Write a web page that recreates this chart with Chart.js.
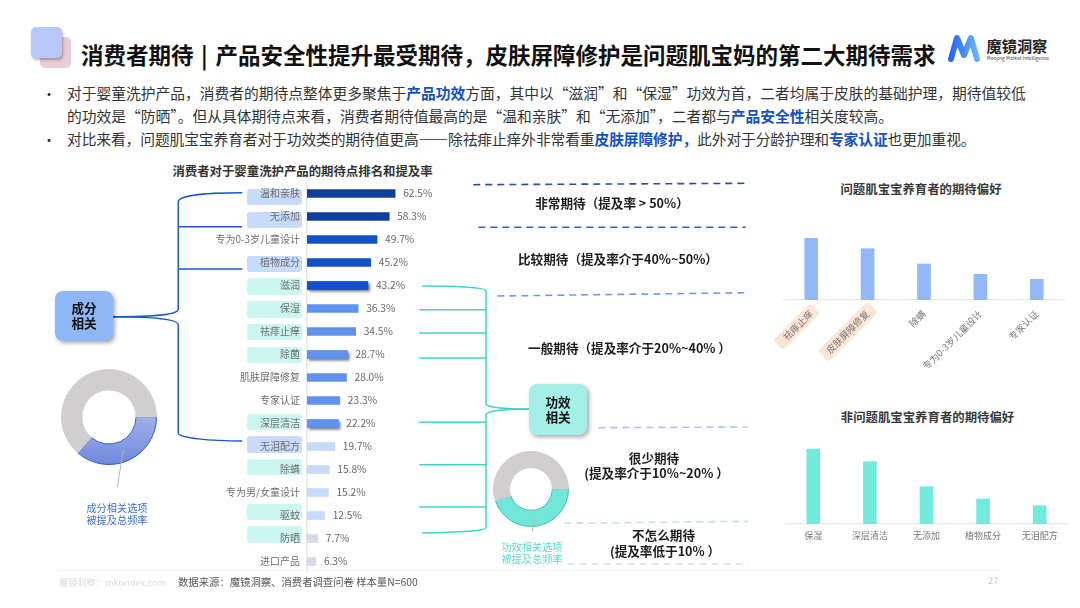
<!DOCTYPE html>
<html lang="zh-CN">
<head>
<meta charset="utf-8">
<script src="https://cdn.jsdelivr.net/npm/chart.js@4/dist/chart.umd.min.js"></script>
<style>
*{box-sizing:border-box}
html,body{margin:0;padding:0;background:#fff;width:1080px;height:608px;overflow:hidden;font-family:"Noto Sans CJK SC","Noto Sans",sans-serif}
.a{position:absolute;white-space:nowrap}
.c{position:absolute;white-space:nowrap;transform:translate(-50%,-50%)}
canvas{position:absolute;display:block}
.body{font-size:14.75px;color:#333;left:67px}
.body b{color:#1450c8;font-weight:700}
.tier{font-size:12.6px;font-weight:700;color:#1c1c1c}
.t2{font-size:12.4px;font-weight:700;color:#3a3a3a}
.pill{position:absolute;left:247px;width:55px;height:16.5px;border-radius:3px}
.pb{background:#c9dbfa}.pt{background:#ccf7f1}
.box{position:absolute;width:57.5px;height:50.5px;border-radius:8px;box-shadow:2px 2px 4px rgba(0,0,0,.35);font-size:12.6px;font-weight:700;color:#111;text-align:center;line-height:15px;padding-top:9.5px}
</style>
</head>
<body>
<div class="a" style="left:40px;top:37px;width:31px;height:31px;border-radius:5px;background:#e9ccd5"></div>
<div class="a" style="left:31px;top:27px;width:31px;height:31px;border-radius:5px;background:#b8c8f8;box-shadow:1px 2px 3px rgba(0,0,0,.3)"></div>
<div class="a" id="title" style="left:81px;top:38px;font-size:22.5px;word-spacing:2.5px;font-weight:700;color:#111;line-height:32px">消费者期待 | 产品安全性提升最受期待，皮肤屏障修护是问题肌宝妈的第二大期待需求</div>

<svg class="a" style="left:0;top:0" width="1080" height="608">
<defs><linearGradient id="lg" x1="0" y1="0" x2="1" y2="0"><stop offset="0" stop-color="#2a66ee"/><stop offset="1" stop-color="#66b4f8"/></linearGradient></defs>
<polyline points="951,59 957,38 964,55 971,38 977,59" fill="none" stroke="url(#lg)" stroke-width="6" stroke-linecap="round" stroke-linejoin="round"/>
<rect x="-26.3" y="-7" width="52.6" height="14" rx="3" fill="#fde5d6" transform="translate(796.7 326.7) rotate(-45)"/>
<rect x="-35" y="-7.5" width="70" height="15" rx="3" fill="#fde5d6" transform="translate(847.7 331.7) rotate(-45)"/>
</svg>
<div class="a" style="left:986.5px;top:34.5px;font-size:15.2px;font-weight:700;color:#222;line-height:20px">魔镜洞察</div>
<div class="a" style="left:986.5px;top:54px;font-size:4.9px;color:#444;line-height:8px">Moojing Market Intelligence</div>

<div class="a" style="left:42px;top:84px;font-size:14px;color:#222;line-height:18px">•</div>
<div class="a body" id="l1" style="top:82px;line-height:22px">对于婴童洗护产品，消费者的期待点整体更多聚焦于<b>产品功效</b>方面，其中以“滋润”和“保湿”功效为首，二者均属于皮肤的基础护理，期待值较低</div>
<div class="a body" id="l2" style="top:105px;line-height:22px">的功效是“防晒”。但从具体期待点来看，消费者期待值最高的是“温和亲肤”和“无添加”，二者都与<b>产品安全性</b>相关度较高。</div>
<div class="a" style="left:42px;top:130px;font-size:14px;color:#222;line-height:18px">•</div>
<div class="a body" id="l3" style="top:128px;line-height:22px;letter-spacing:-.1px">对比来看，问题肌宝宝养育者对于功效类的期待值更高——除祛痱止痒外非常看重<b>皮肤屏障修护，</b>此外对于分龄护理和<b>专家认证</b>也更加重视。</div>

<div class="c t2" style="left:302.5px;top:171px;color:#333">消费者对于婴童洗护产品的期待点排名和提及率</div>
<div class="c t2" style="left:921px;top:189px">问题肌宝宝养育者的期待偏好</div>
<div class="c t2" style="left:927.5px;top:416.5px">非问题肌宝宝养育者的期待偏好</div>

<div class="pill pb" style="top:188.5px"></div>
<div class="pill pb" style="top:211.7px"></div>
<div class="pill pb" style="top:255.7px"></div>
<div class="pill pt" style="top:278.3px"></div>
<div class="pill pt" style="top:301px"></div>
<div class="pill pt" style="top:323.7px"></div>
<div class="pill pt" style="top:346.5px"></div>
<div class="pill pt" style="top:413.5px"></div>
<div class="pill pb" style="top:436px"></div>
<div class="pill pt" style="top:458.5px"></div>
<div class="pill pt" style="top:503.5px"></div>
<div class="pill pt" style="top:526px"></div>

<canvas id="mainChart" width="298" height="391" style="left:150px;top:182px"></canvas>
<canvas id="probChart" width="282" height="155" style="left:782.5px;top:220px"></canvas>
<canvas id="nonChart" width="283" height="110" style="left:785px;top:444px"></canvas>
<canvas id="ringA" width="96" height="96" style="left:61px;top:369px"></canvas>
<canvas id="ringB" width="76" height="76" style="left:493px;top:451px"></canvas>

<svg class="a" style="left:0;top:0;pointer-events:none" width="1080" height="608" fill="none">
<g stroke="#1a57cf" stroke-width="1.5">
<path d="M112.7 316.7 C145 316.7 178.3 316 178.3 309 L178.3 201.7 C178.3 195 210 192.7 242.3 192.7"/>
<path d="M178.3 226.7 H242.3 M178.3 269 H242.3"/>
<path d="M112.7 316.7 C145 316.7 178.3 318 178.3 325 L178.3 433 C178.3 438 210 441 242.3 441"/>
</g>
<g stroke="#3dd6c4" stroke-width="1.5">
<path d="M422 286 C450 286 486 287 486 291 L486 404 C486 407 505 409 529.3 409"/>
<path d="M529.3 409 C505 409 486 411 486 415 L486 527.7 C486 531 450 533 422 533"/>
<path d="M419.3 309.7 H486 M419.3 333 H486 M419.3 358 H486 M419.3 422.3 H486 M419.3 464.7 H486 M419.3 507 H486"/>
</g>
<g stroke-width="1.6" stroke-dasharray="7 5">
<path d="M473.3 184.7 L748.3 183.3" stroke="#2e4fa0"/>
<path d="M478.3 227.3 L745.7 227.3" stroke="#2d5fd0"/>
<path d="M497.3 296 L748.3 292.7" stroke="#6c9bf2"/>
<path d="M598.3 427.7 L747.7 427" stroke="#a9c3f7"/>
<path d="M564.3 523.3 L748.3 521.3" stroke="#c9dafa"/>
<path d="M567.7 564 L748.3 564" stroke="#d8e0f0"/>
</g>
<path d="M123.3 450 L117.3 487" stroke="#b5b5b5"/>
<path d="M535 518 L532.3 531.7" stroke="#b5b5b5"/>
<path d="M58 570 H1000" stroke="#f5f5f5"/>
</svg>

<div class="box" style="left:55.3px;top:290.7px;background:#8fb6f5">成分<br>相关</div>
<div class="box" style="left:529.3px;top:384px;background:#a4f0e6">功效<br>相关</div>

<div class="c tier" style="left:612px;top:202px">非常期待（提及率 > 50%）</div>
<div class="c tier" style="left:618px;top:258px">比较期待（提及率介于40%~50%）</div>
<div class="c tier" style="left:629.5px;top:346.5px">一般期待（提及率介于20%~40% ）</div>
<div class="c tier" style="left:654px;top:457px">很少期待</div>
<div class="c tier" style="left:656.5px;top:472px">(提及率介于10%~20% ）</div>
<div class="c tier" style="left:663.5px;top:534px">不怎么期待</div>
<div class="c tier" style="left:665px;top:550px">(提及率低于10% ）</div>

<div class="c" style="left:117px;top:507px;font-size:10.2px;color:#3a6fd8">成分相关选项</div>
<div class="c" style="left:117px;top:519px;font-size:10.2px;color:#3a6fd8">被提及总频率</div>
<div class="c" style="left:532px;top:545.5px;font-size:10.2px;color:#56dccb">功效相关选项</div>
<div class="c" style="left:532px;top:558px;font-size:10.2px;color:#56dccb">被提及总频率</div>

<div class="a" style="left:59px;top:575px;font-size:9.2px;color:#dcdcdc;line-height:14px">魔镜洞察：mktindex.com</div>
<div class="a" style="left:178px;top:574px;font-size:10.35px;color:#555;line-height:16px">数据来源：魔镜洞察、消费者调查问卷 样本量N=600</div>
<div class="a" style="left:988px;top:573px;font-size:9.5px;color:#cfcfcf;line-height:14px">27</div>

<script>
const FONT = '"Noto Sans CJK SC","Noto Sans",sans-serif';

const categories = ['温和亲肤','无添加','专为0-3岁儿童设计','植物成分','滋润','保湿','祛痱止痒','除菌','肌肤屏障修复','专家认证','深层清洁','无泪配方','除螨','专为男/女童设计','驱蚊','防晒','进口产品'];
const mentionRates = [62.5,58.3,49.7,45.2,43.2,36.3,34.5,28.7,28.0,23.3,22.2,19.7,15.8,15.2,12.5,7.7,6.3];
const shadowedCategories = ['滋润','除菌','深层清洁'];

const problemCategories = ['祛痱止痒','皮肤屏障修复','除螨','专为0-3岁儿童设计','专家认证'];
const problemValues = [61.7,51.3,36,25.7,20.7];

const nonProblemCategories = ['保湿','深层清洁','无添加','植物成分','无泪配方'];
const nonProblemValues = [75,62.3,37.3,25,18.3];

const ingredientShare = [36.4,63.6];
const efficacyShare = [44.8,55.2];

function tierColor(v){
  if(v>50) return '#0f3f9e';
  if(v>40) return '#1252c8';
  if(v>20) return '#5f93ee';
  if(v>10) return '#c8daf9';
  return '#d5dce8';
}

const rateLabels = {
  id:'rateLabels',
  beforeDatasetsDraw(chart){
    const c=chart.ctx;
    chart.getDatasetMeta(0).data.forEach((b,i)=>{
      if(!shadowedCategories.includes(categories[i])) return;
      c.save();
      c.shadowColor='rgba(0,0,0,.55)';c.shadowBlur=3;c.shadowOffsetX=2;c.shadowOffsetY=2;
      c.fillStyle=tierColor(mentionRates[i]);
      c.fillRect(b.base,b.y-b.height/2,b.x-b.base,b.height);
      c.restore();
    });
  },
  afterDatasetsDraw(chart){
    const c=chart.ctx;
    c.save();
    c.font='10.2px '+FONT;c.fillStyle='#666';c.textBaseline='middle';c.textAlign='left';
    chart.getDatasetMeta(0).data.forEach((b,i)=>{
      c.fillText(mentionRates[i].toFixed(1)+'%',b.x+8,b.y);
    });
    c.restore();
  }
};

new Chart(document.getElementById('mainChart'),{
  type:'bar',
  data:{labels:categories,datasets:[{data:mentionRates,backgroundColor:mentionRates.map(tierColor),barThickness:8,borderWidth:0}]},
  options:{
    indexAxis:'y',responsive:false,animation:false,
    layout:{padding:0},
    plugins:{legend:{display:false},tooltip:{enabled:false}},
    scales:{
      x:{display:false,min:0,max:100},
      y:{
        offset:true,
        afterFit(s){s.width=157;s.paddingTop=0;s.paddingBottom=0;},
        grid:{display:false,drawTicks:false},
        border:{display:true,color:'#e8e8e8',width:1.5},
        ticks:{autoSkip:false,padding:7,color:'#6e6e6e',font:{family:FONT,size:10}}
      }
    }
  },
  plugins:[rateLabels]
});

function smallBars(id,labels,values,color,axisHeight,rotate){
  new Chart(document.getElementById(id),{
    type:'bar',
    data:{labels,datasets:[{data:values,backgroundColor:color,barThickness:13,borderWidth:0}]},
    options:{
      responsive:false,animation:false,
      layout:{padding:0},
      plugins:{legend:{display:false},tooltip:{enabled:false}},
      scales:{
        y:{display:false,min:0,max:80},
        x:{
          afterFit(s){s.height=axisHeight;s.paddingLeft=0;s.paddingRight=0;},
          grid:{display:false,drawTicks:false},
          border:{display:true,color:'#e6e6e6',width:1.2},
          ticks:{autoSkip:false,padding:rotate?8:6,color:'#777',font:{family:FONT,size:rotate?9.4:9},
                 minRotation:rotate?45:0,maxRotation:rotate?45:0}
        }
      }
    }
  });
}
smallBars('probChart',problemCategories,problemValues,'#94b8f7',75,true);
smallBars('nonChart',nonProblemCategories,nonProblemValues,'#72ebdc',30,false);

function ring(id,shares,fill,edge,cutout){
  new Chart(document.getElementById(id),{
    type:'doughnut',
    data:{labels:['相关','其他'],datasets:[{data:shares,
      backgroundColor:(ctx)=>{
        if(ctx.dataIndex===1) return '#d0cecf';
        const h=ctx.chart.height;
        const g=ctx.chart.ctx.createLinearGradient(0,h/2,0,h);
        g.addColorStop(0,fill[0]);g.addColorStop(1,fill[1]);
        return g;
      },
      borderColor:(ctx)=>ctx.dataIndex===1?'#d0cecf':edge,
      borderWidth:1}]},
    options:{responsive:false,animation:false,rotation:90,cutout,
      layout:{padding:0},
      plugins:{legend:{display:false},tooltip:{enabled:false}}}
  });
}
ring('ringA',ingredientShare,['#a2b0e8','#6f88dc'],'#2b5fd0','57%');
ring('ringB',efficacyShare,['#72e8db','#70e6d8'],'#45bdae','57%');
</script>
</body>
</html>
